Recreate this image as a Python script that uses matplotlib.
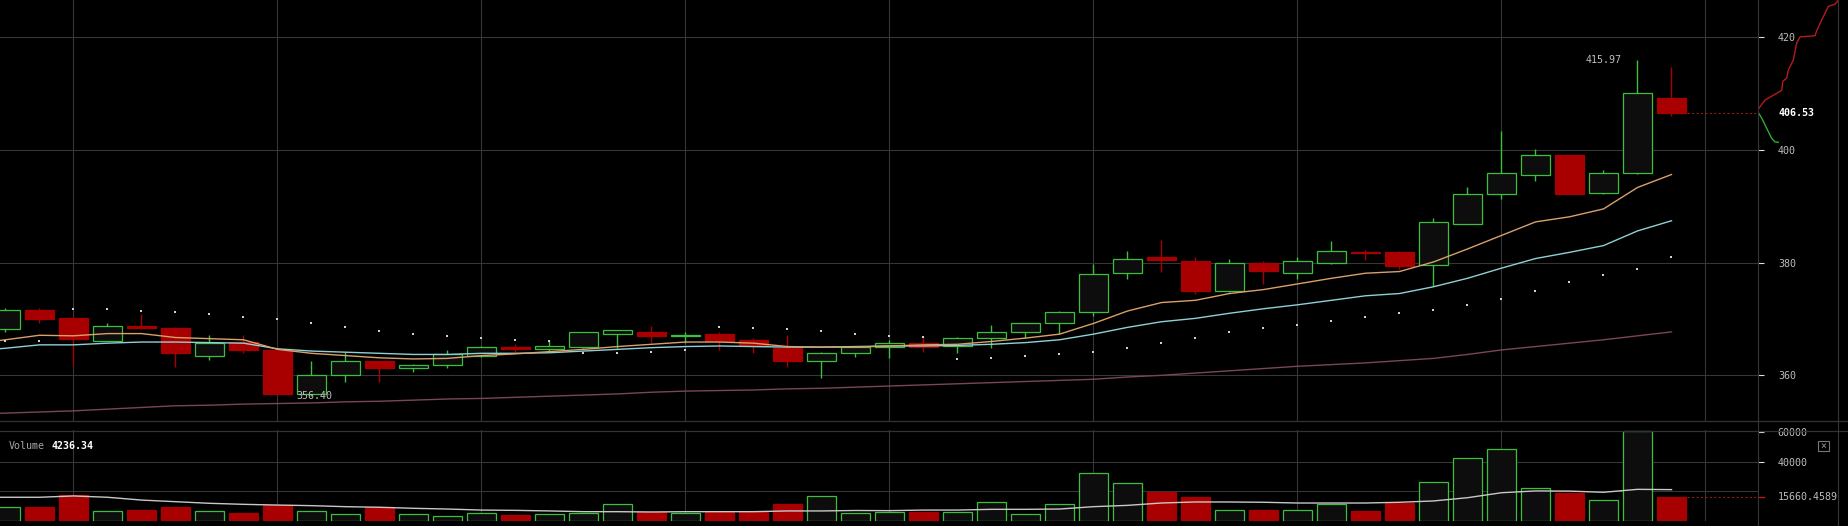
import matplotlib
matplotlib.use("Agg")
import matplotlib.pyplot as plt
from matplotlib.lines import Line2D
from matplotlib.patches import Rectangle
import numpy as np

plt.rcParams['font.family'] = ['DejaVu Sans Mono', 'DejaVu Sans']

# ---- candles (oldest -> newest) ----
opens = [368.2, 371.6, 370.2, 366.1, 368.7, 368.4, 363.5, 365.9, 364.5, 356.6,
         360.0, 362.5, 361.3, 361.8, 363.5, 365.0, 364.7, 365.1, 367.4, 367.7,
         366.9, 367.3, 366.2, 364.9, 362.5, 363.9, 365.1, 365.7, 365.2, 366.7,
         367.6, 369.2, 371.3, 378.1, 380.9, 380.3, 375.0, 379.9, 378.1, 380.0,
         381.9, 381.9, 379.5, 386.9, 392.1, 395.6, 399.0, 392.3, 395.8, 409.1]
highs = [371.9, 371.9, 370.5, 369.2, 370.9, 368.6, 367.1, 367.1, 364.7, 362.5,
         364.2, 362.6, 362.0, 364.5, 365.2, 365.5, 366.2, 367.7, 368.1, 368.8,
         367.6, 367.6, 366.7, 367.1, 364.1, 365.2, 366.2, 366.8, 366.8, 368.9,
         369.3, 371.4, 379.7, 382.0, 384.0, 381.0, 380.7, 380.3, 381.0, 383.8,
         382.3, 382.0, 387.9, 393.3, 403.3, 400.1, 399.1, 396.4, 415.97, 414.6]
lows = [367.6, 369.3, 361.8, 366.0, 368.2, 361.5, 362.7, 363.9, 356.4, 356.4,
        358.9, 358.9, 360.5, 361.3, 363.3, 364.2, 364.2, 364.9, 364.8, 365.7,
        365.7, 364.5, 364.0, 361.4, 359.6, 363.3, 363.0, 364.2, 364.0, 364.8,
        366.7, 367.4, 370.5, 377.0, 378.3, 374.5, 374.7, 376.2, 377.1, 379.8,
        380.4, 378.8, 375.8, 386.8, 391.2, 394.5, 392.1, 392.2, 395.7, 406.0]
closes = [371.5, 370.0, 366.4, 368.7, 368.3, 363.9, 365.8, 364.4, 356.6, 360.0,
          362.5, 361.3, 361.9, 363.7, 365.0, 364.7, 365.2, 367.6, 368.0, 367.0,
          367.1, 366.1, 365.2, 362.6, 363.9, 365.1, 365.7, 365.1, 366.7, 367.6,
          369.2, 371.3, 377.9, 380.6, 380.5, 375.0, 380.0, 378.5, 380.2, 382.0,
          381.7, 379.4, 387.1, 392.1, 395.8, 399.0, 392.2, 395.8, 410.0, 406.53]
volumes = [9000, 9200, 17100, 6500, 7100, 9200, 6500, 5100, 10300, 6500,
           4200, 9000, 4200, 2850, 4900, 3700, 4200, 5300, 11000, 6000,
           5100, 5600, 5600, 11200, 16400, 4900, 5600, 6000, 6000, 12400,
           4200, 11000, 32300, 25500, 19400, 16000, 6900, 7100, 6900, 11400,
           6500, 11900, 26000, 42300, 48400, 21900, 18700, 13700, 61000, 15660.4589]

# ---- indicators (first value is the bar before the visible window) ----
ma_fast = [365.6, 366.3, 367.1, 367.0, 367.4, 367.4, 366.7, 366.5, 366.3, 364.6,
           363.9, 363.5, 363.1, 362.9, 363.0, 363.5, 363.8, 364.2, 364.6, 365.1,
           365.5, 365.9, 365.9, 365.7, 365.1, 365.0, 365.0, 365.2, 365.4, 365.5,
           366.0, 366.6, 367.3, 369.2, 371.4, 372.9, 373.3, 374.5, 375.2, 376.2,
           377.2, 378.1, 378.4, 380.1, 382.4, 384.8, 387.2, 388.1, 389.5, 393.3, 395.6]
ma_mid = [364.3, 364.8, 365.4, 365.4, 365.7, 365.9, 365.9, 365.8, 365.7, 364.7,
          364.3, 364.1, 363.9, 363.7, 363.7, 363.9, 363.9, 364.0, 364.3, 364.6,
          364.9, 365.1, 365.2, 365.1, 365.0, 365.0, 365.1, 365.2, 365.2, 365.3,
          365.5, 365.8, 366.3, 367.3, 368.5, 369.5, 370.1, 371.0, 371.8, 372.5,
          373.3, 374.1, 374.5, 375.7, 377.2, 379.0, 380.7, 381.8, 383.0, 385.6, 387.4]
ma_slow = [353.1, 353.3, 353.5, 353.7, 354.0, 354.3, 354.6, 354.7, 354.9, 355.0,
           355.1, 355.3, 355.4, 355.6, 355.8, 355.9, 356.1, 356.3, 356.5, 356.7,
           357.0, 357.2, 357.3, 357.4, 357.6, 357.7, 357.9, 358.1, 358.3, 358.5,
           358.7, 358.9, 359.1, 359.3, 359.7, 360.0, 360.4, 360.8, 361.2, 361.6,
           361.9, 362.2, 362.6, 363.0, 363.7, 364.5, 365.1, 365.7, 366.3, 367.0, 367.7]
sar = [366.1, 366.1, 371.8, 371.8, 371.4, 371.2, 370.9, 370.4, 370.0, 369.3,
       368.6, 367.9, 367.4, 367.0, 366.7, 366.3, 366.1, 364.0, 364.0, 364.1,
       364.5, 368.6, 368.4, 368.2, 367.9, 367.4, 367.0, 366.8, 362.9, 363.1,
       363.5, 363.7, 364.2, 364.9, 365.8, 366.7, 367.6, 368.3, 369.0, 369.7,
       370.4, 371.0, 371.6, 372.5, 373.6, 375.0, 376.6, 377.8, 378.8, 380.9]
vol_ma = [15800, 15800, 15800, 16700, 15800, 13900, 12800, 11700, 11000, 10500,
          10100, 9400, 9000, 8300, 7800, 7100, 6900, 6500, 6000, 6000,
          5800, 6000, 6000, 6000, 6500, 6500, 6800, 6700, 7100, 7100,
          7600, 7600, 7800, 9400, 10300, 11900, 12600, 12600, 12400, 11900,
          11900, 11900, 12400, 13300, 15500, 18900, 20100, 20000, 19200, 21200, 21000]

# ---- order book depth (cumulative amount, price) ----
ask_depth = [0.3, 7, 23.7, 24.7, 28.7, 30.3, 35.3, 38.7, 42, 57, 58.7, 63.7, 70.3, 77, 80.3]
ask_price = [407.2, 408.8, 410.5, 412.1, 412.7, 414.1, 415.9, 418.9, 420.0, 420.2,
             421.1, 423.0, 425.4, 425.8, 426.5]
bid_depth = [0.3, 3.7, 8.7, 13.7, 17, 20.3]
bid_price = [406.6, 405.6, 403.8, 402.0, 401.4, 401.3]

price_ticks = [360, 380, 400, 420]
vol_ticks = [40000, 60000]
last_price = 406.53
last_volume = 15660.4589

W, H = 1848, 526
BG = '#000000'
GRID = '#363636'
GREEN = '#3cbf3c'
RED = '#a80000'
BODY = '#0d0d0d'
TXT = '#bdbdbd'

fig = plt.figure(figsize=(W / 100, H / 100), dpi=100, facecolor=BG)

x = np.arange(len(opens))
xi = np.arange(-1, len(opens))
up = np.array(closes) >= np.array(opens)
edge = [GREEN if u else RED for u in up]
face = [BODY if u else RED for u in up]
xlim = (-5.5 / 34, (1758 - 5.5) / 34)


def style(ax):
    ax.set_facecolor(BG)
    for s in ax.spines.values():
        s.set_visible(False)
    ax.set_xlim(*xlim)
    ax.set_xticks([])
    ax.yaxis.tick_right()
    ax.tick_params(axis='y', length=4.3, width=0.8, color='#dddddd', pad=10,
                   labelsize=7.2, labelcolor=TXT)
    for k in range(2, 51, 6):
        ax.axvline(k, color=GRID, lw=0.8, zorder=0)


# ---- main price panel ----
ax = fig.add_axes([0, 1 - 421 / H, 1758 / W, 421 / H])
style(ax)
ax.set_ylim(351.9, 426.54)
ax.set_yticks(price_ticks)
for v in price_ticks:
    ax.axhline(v, color=GRID, lw=0.8, zorder=0)

ax.plot(xi, ma_slow, color='#7a4656', lw=1, zorder=1)
ax.plot(xi, ma_mid, color='#8fd0d6', lw=1, zorder=4)
ax.plot(xi, ma_fast, color='#d9a06a', lw=1, zorder=4)
ax.scatter(x, sar, s=2.5, color='#d0d0d0', marker='s', linewidths=0, zorder=5)

body_lo = np.minimum(opens, closes)
body_h = np.maximum(np.abs(np.array(closes) - np.array(opens)), 0.15)
ax.vlines(x, lows, highs, colors=edge, lw=1, zorder=2)
ax.bar(x, body_h, bottom=body_lo, width=0.88, color=face, edgecolor=edge,
       linewidth=0.9, zorder=3)

ax.plot([49.45, xlim[1]], [last_price, last_price], color='#8b1a1a', lw=0.8,
        ls=(0, (2, 2)), zorder=2)
ilo = int(np.argmin(lows))
ihi = int(np.argmax(highs))
ax.text(ilo + 0.55, lows[ilo], f"{lows[ilo]:.2f}", color=TXT, fontsize=7.2,
        ha='left', va='center')
ax.text(ihi - 0.48, highs[ihi], f"{highs[ihi]:.2f}", color=TXT, fontsize=7.2,
        ha='right', va='center')
ax.text(1778 / 1758, last_price, f"{last_price:.2f}", transform=ax.get_yaxis_transform(),
        color='white', fontsize=7.2, fontweight='bold', ha='left', va='center')

# ---- depth on the right ----
dx = fig.add_axes([1758 / W, 1 - 421 / H, 80 / W, 421 / H])
dx.set_facecolor('none')
dx.axis('off')
dx.set_xlim(0, 80)
dx.set_ylim(351.9, 426.54)
dx.plot([0] + ask_depth, [last_price] + ask_price, color='#b41c1c', lw=1)
dx.plot([0] + bid_depth, [last_price] + bid_price, color='#2faa2f', lw=1)

# ---- volume panel ----
vx = fig.add_axes([0, 5 / H, 1758 / W, 91 / H])
style(vx)
vx.set_ylim(-340, 61565)
vx.set_yticks(vol_ticks)
for v in [20000, 40000]:
    vx.axhline(v, color=GRID, lw=0.8, zorder=0)
vx.bar(x, volumes, width=0.88, color=face, edgecolor=edge, linewidth=0.9, zorder=3)
vx.plot(xi, vol_ma, color='#c8c8c8', lw=1, zorder=4)
vx.plot([49.45, xlim[1]], [last_volume, last_volume], color='#8b1a1a', lw=0.8,
        ls=(0, (2, 2)), zorder=2)
vx.plot([1.0, 1764 / 1758], [last_volume, last_volume], transform=vx.get_yaxis_transform(),
        color='#c01818', lw=1, clip_on=False)
vx.text(1778 / 1758, last_volume, f"{last_volume:.4f}", transform=vx.get_yaxis_transform(),
        color=TXT, fontsize=7.2, ha='left', va='center')

fig.text(9 / W, 1 - 446 / H, "Volume", color='#a8a8a8', fontsize=7.2, va='center')
fig.text(52 / W, 1 - 446 / H, "4236.34", color='white', fontsize=7.2,
         fontweight='bold', va='center')

# close box
fig.add_artist(Rectangle((1818 / W, 1 - 451 / H), 11 / W, 10 / H, transform=fig.transFigure,
                         facecolor='none', edgecolor='#777777', lw=0.8))
fig.text(1823.5 / W, 1 - 446 / H, "×", color='#999999', fontsize=7, ha='center', va='center')

# separators and frame lines
for py in (420.5, 431):
    fig.add_artist(Line2D([0, 1], [1 - py / H] * 2, color='#333333', lw=0.9))
for px in (1758, 1838):
    fig.add_artist(Line2D([px / W] * 2, [0, 1], color=GRID, lw=0.8))

fig.savefig("out.png", dpi=100, facecolor=BG)
